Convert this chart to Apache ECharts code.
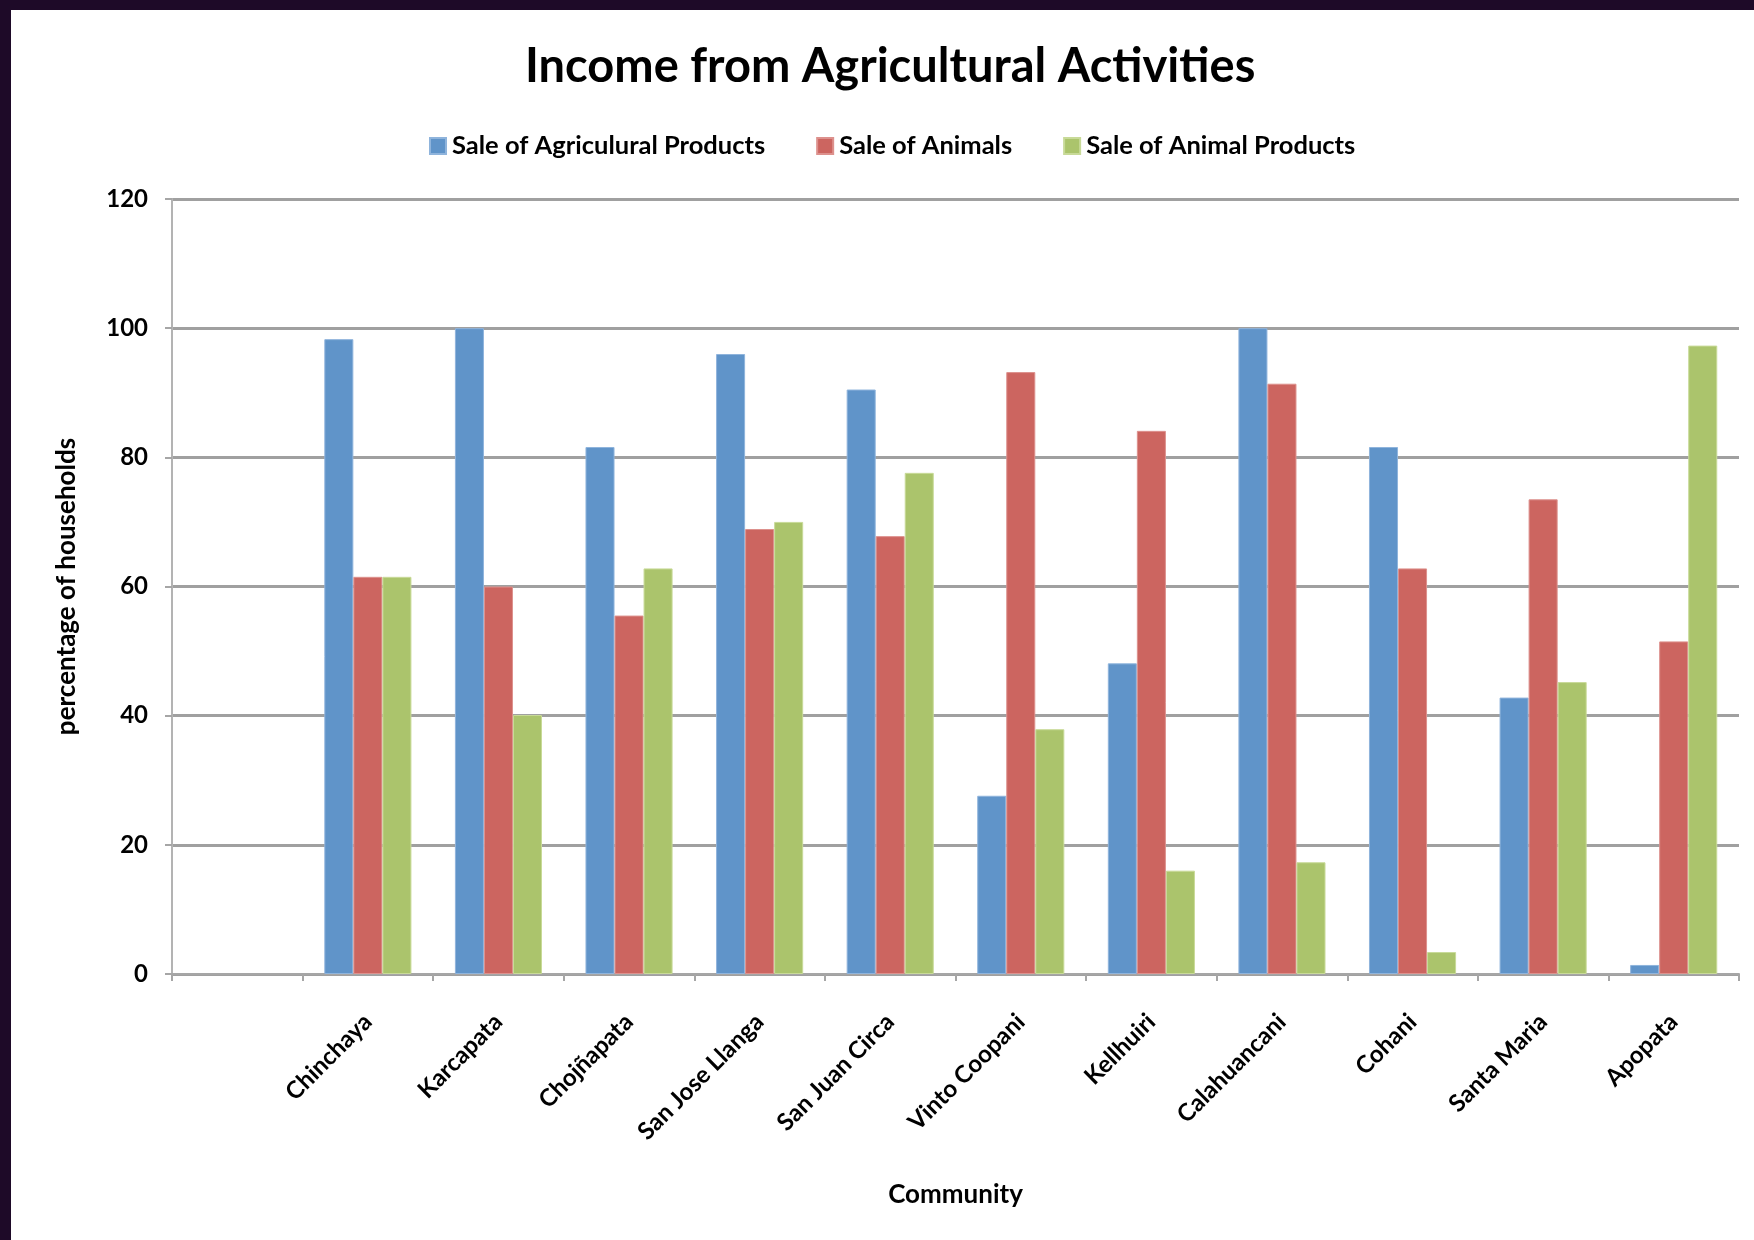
<!DOCTYPE html>
<html>
<head>
<meta charset="utf-8">
<script src="https://cdn.jsdelivr.net/npm/echarts@6/dist/echarts.min.js"></script>
<style>
html,body{margin:0;padding:0;background:#ffffff;}
#chart{width:1754px;height:1240px;}
</style>
</head>
<body>
<div id="chart"></div>
<script>
const categories = ["", "Chinchaya", "Karcapata", "Chojñapata", "San Jose Llanga", "San Juan Circa", "Vinto Coopani", "Kellhuiri", "Calahuancani", "Cohani", "Santa Maria", "Apopata"];
const seriesNames = ["Sale of Agriculural Products", "Sale of Animals", "Sale of Animal Products"];
const agriculturalProducts = [null, 98.3, 100, 81.6, 96.0, 90.5, 27.6, 48.1, 100, 81.6, 42.8, 1.4];
const animals = [null, 61.5, 60.0, 55.5, 68.9, 67.8, 93.2, 84.1, 91.4, 62.8, 73.5, 51.5];
const animalProducts = [null, 61.5, 40.1, 62.8, 70.0, 77.6, 37.9, 16.0, 17.3, 3.4, 45.2, 97.3];
const yTicks = [0, 20, 40, 60, 80, 100, 120];

const FONT = 'Lato, "Open Sans", sans-serif';
const colors = ['#6094C9', '#CC6560', '#ABC46C'];
const borders = ['#8FB4DC', '#DD918D', '#C8DA98'];

const chart = echarts.init(document.getElementById('chart'), null, {renderer: 'canvas'});

function barSeries(name, data, i) {
  return {
    name: name,
    type: 'bar',
    data: data,
    barGap: '0%',
    barCategoryGap: '33.3%',
    itemStyle: {color: colors[i], borderColor: borders[i], borderWidth: 1},
    emphasis: {disabled: true}
  };
}

chart.setOption({
  backgroundColor: '#ffffff',
  animation: false,
  color: colors,
  graphic: [
    {type: 'rect', left: 0, top: 0, shape: {width: 1754, height: 10}, style: {fill: '#1E0A28'}, z: 100},
    {type: 'rect', left: 0, top: 0, shape: {width: 11, height: 1240}, style: {fill: '#1E0A28'}, z: 100}
  ],
  title: {
    text: 'Income from Agricultural Activities',
    left: 520,
    top: 38,
    textStyle: {fontFamily: FONT, fontWeight: 'bold', fontSize: 47, color: '#000000'}
  },
  legend: {
    data: seriesNames,
    top: 128,
    left: 424,
    icon: 'rect',
    itemWidth: 16,
    itemHeight: 16,
    itemGap: 51,
    textStyle: {fontFamily: FONT, fontWeight: 'bold', fontSize: 25.5, color: '#000000', padding: [0, 0, 0, 1]}
  },
  grid: {left: 172, right: 15, top: 199, bottom: 266, containLabel: false},
  xAxis: {
    type: 'category',
    data: categories,
    name: 'Community',
    nameLocation: 'middle',
    nameGap: 208,
    nameTextStyle: {fontFamily: FONT, fontWeight: 'bold', fontSize: 26, color: '#000000'},
    axisLine: {show: true, lineStyle: {color: '#A6A6A6', width: 2}},
    axisTick: {show: true, length: 7, interval: 0, lineStyle: {color: '#A6A6A6', width: 2}},
    axisLabel: {
      interval: 0,
      rotate: 45,
      margin: 44,
      fontFamily: FONT,
      fontWeight: 'bold',
      fontSize: 24,
      color: '#000000'
    },
    splitLine: {show: false}
  },
  yAxis: {
    type: 'value',
    min: yTicks[0],
    max: yTicks[yTicks.length - 1],
    interval: 20,
    name: 'percentage of households',
    nameLocation: 'middle',
    nameGap: 92,
    nameRotate: 90,
    nameTextStyle: {fontFamily: FONT, fontWeight: 'bold', fontSize: 26, color: '#000000'},
    axisLine: {show: true, lineStyle: {color: '#B3B3B3', width: 2}},
    axisTick: {show: true, inside: false, length: 7, lineStyle: {color: '#A6A6A6', width: 2}},
    axisLabel: {
      margin: 24,
      fontFamily: FONT,
      fontWeight: 'bold',
      fontSize: 24,
      color: '#000000'
    },
    splitLine: {show: true, lineStyle: {color: '#A0A0A0', width: 3}}
  },
  series: [
    barSeries(seriesNames[0], agriculturalProducts, 0),
    barSeries(seriesNames[1], animals, 1),
    barSeries(seriesNames[2], animalProducts, 2)
  ]
});
</script>
</body>
</html>
